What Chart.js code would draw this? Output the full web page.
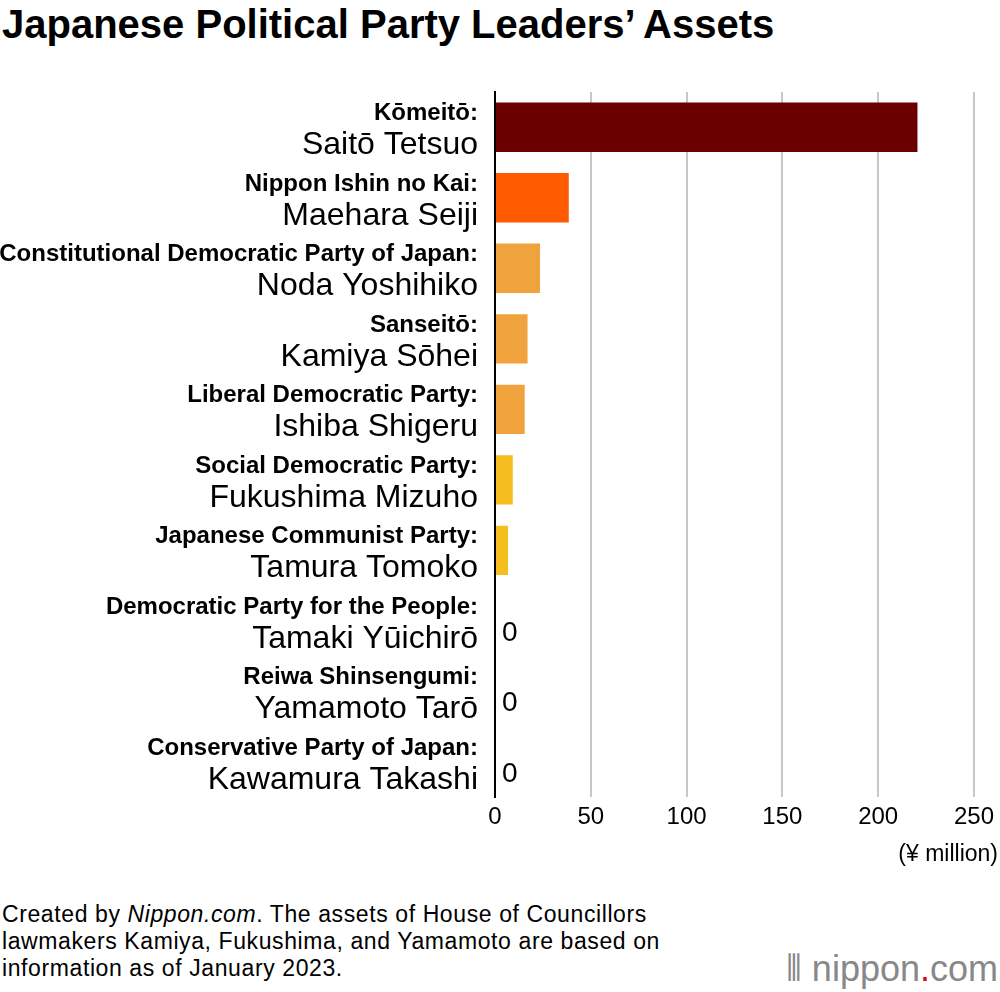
<!DOCTYPE html>
<html><head><meta charset="utf-8">
<script src="https://cdn.jsdelivr.net/npm/chart.js@4"></script>
<style>
body{margin:0;width:1000px;height:992px;background:#fff;font-family:"Liberation Sans",Arial,sans-serif;position:relative;overflow:hidden}
#title{position:absolute;left:2px;top:2px;font-size:40px;font-weight:bold;color:#000}
#wrap{position:absolute;left:0;top:60px;width:1000px;height:820px}
#note{position:absolute;left:2px;top:901px;font-size:23px;line-height:27px;color:#000;letter-spacing:0.6px}
#logo{position:absolute;right:2px;top:948px;font-size:36px;color:#888}
#logo span{color:#e60012}
</style></head><body>
<div id="title">Japanese Political Party Leaders’ Assets</div>
<div id="wrap"><canvas id="c"></canvas></div>
<div id="note">Created by <i>Nippon.com</i>. The assets of House of Councillors<br>lawmakers Kamiya, Fukushima, and Yamamoto are based on<br>information as of January 2023.</div>
<div id="logo">⦀ nippon<span>.</span>com</div>
<script>
const parties=["Kōmeitō:","Nippon Ishin no Kai:","Constitutional Democratic Party of Japan:","Sanseitō:","Liberal Democratic Party:","Social Democratic Party:","Japanese Communist Party:","Democratic Party for the People:","Reiwa Shinsengumi:","Conservative Party of Japan:"];
const leaders=["Saitō Tetsuo","Maehara Seiji","Noda Yoshihiko","Kamiya Sōhei","Ishiba Shigeru","Fukushima Mizuho","Tamura Tomoko","Tamaki Yūichirō","Yamamoto Tarō","Kawamura Takashi"];
const assets=[220.5,38.5,23.5,17,15.5,9.3,6.8,0,0,0];
const colors=["#6b0000","#ff5a00","#f0a23c","#f0a23c","#f0a23c","#f5be1e","#f5be1e","#f5be1e","#f5be1e","#f5be1e"];
const xTicks=[0,50,100,150,200,250];
const labelPlugin={id:'lbl',afterDraw(ch){
 const c=ch.ctx,y=ch.scales.y,x=ch.scales.x;
 c.save();c.textAlign='right';c.fillStyle='#000';
 parties.forEach((p,i)=>{const py=y.getPixelForValue(i);
  c.font='bold 24px "Liberation Sans", Arial';c.textBaseline='alphabetic';c.fillText(p,478,py-7);
  c.font='32px "Liberation Sans", Arial';c.fillText(leaders[i],478,py+27);
  if(assets[i]===0){c.textAlign='left';c.font='28px "Liberation Sans", Arial';c.fillText('0',x.getPixelForValue(0)+7,py+20);c.textAlign='right';}
 });
 c.font='23px "Liberation Sans", Arial';c.fillText('(¥ million)',998,ch.chartArea.bottom+64);
 c.restore();}};
new Chart(document.getElementById('c'),{type:'bar',
 data:{labels:leaders,datasets:[{data:assets,backgroundColor:colors,barPercentage:0.7,categoryPercentage:1}]},
 options:{indexAxis:'y',responsive:true,maintainAspectRatio:false,animation:false,
  layout:{padding:{top:32,right:22,bottom:42,left:0}},
  plugins:{legend:{display:false},tooltip:{enabled:false}},
  scales:{
   x:{min:0,max:250,afterBuildTicks(s){s.ticks=xTicks.map(v=>({value:v}))},
      grid:{color:'#c8c8c8',lineWidth:2,drawTicks:false},border:{display:false},
      ticks:{color:'#000',font:{size:24,family:'"Liberation Sans", Arial'},padding:6}},
   y:{grid:{display:false},border:{color:'#000',width:2},ticks:{display:false},afterFit(s){s.width=495}}
  }},
 plugins:[labelPlugin]});
</script>
</body></html>
